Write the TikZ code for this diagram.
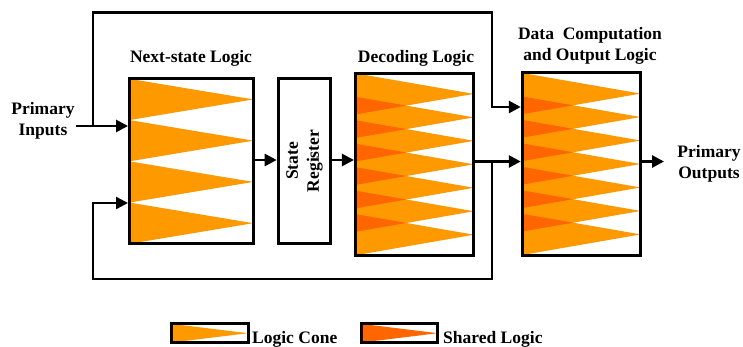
\documentclass[tikz,border=0pt]{standalone}
\usepackage{fontspec}
\setmainfont{Liberation Serif}
\usetikzlibrary{arrows.meta,backgrounds,calc}
\definecolor{conelight}{HTML}{FF9900}
\definecolor{coneshared}{HTML}{FF6600}

\begin{document}
\begin{tikzpicture}[x=1pt,y=-1pt,
  txt/.style={font=\bfseries\fontsize{17.5}{21}\selectfont, inner sep=0pt},
  block/.style={draw, line width=3pt, inner sep=0pt, outer sep=1.5pt, fill=none},
  link/.style={line width=2.8pt, -{Triangle[length=12pt,width=12pt]}},
  feedlink/.style={line width=2.3pt, -{Triangle[length=12pt,width=12pt]}},
  lightcone/.style={fill=conelight},
  sharedcone/.style={fill=coneshared}]

\useasboundingbox (0,0) rectangle (743,347);

% ---- blocks ----
\node[block, minimum width=123.8pt, minimum height=165pt] (ns)  at (191.4,161.3) {};
\node[block, minimum width=52.6pt,  minimum height=165.6pt] (sr) at (304.5,161) {};
\node[block, minimum width=118.5pt, minimum height=182pt] (dec) at (414.7,164.3) {};
\node[block, minimum width=118.5pt, minimum height=182pt] (dat) at (581.5,164) {};

% ---- logic cones ----
\pgfmathsetmacro\conesH{0.2262}
\pgfmathsetmacro\conesS{(1-\conesH)/6}
% next-state logic: four separate cones
\begin{scope}[on background layer, shift={([shift={(1.5pt,-1.5pt)}]ns.north west)}, x=123.8pt, y=-165pt]
  \foreach \i in {0,...,3}
    \fill[lightcone] (0,{\i/4}) -- (0,{(\i+1)/4}) -- (1,{(\i+0.5)/4}) -- cycle;
\end{scope}
% decoding and data blocks: overlapping cones with shared parts
\foreach \blk in {dec,dat}{
  \begin{scope}[on background layer, shift={([shift={(1.5pt,-1.5pt)}]\blk.north west)}, x=118.5pt, y=-182pt]
    \foreach \i in {0,...,6}
      \fill[lightcone] (0,{\i*\conesS}) -- (0,{\i*\conesS+\conesH}) -- (1,{\i*\conesS+\conesH/2}) -- cycle;
    \foreach \i in {0,...,5}
      \fill[sharedcone] (0,{(\i+1)*\conesS}) -- (0,{\i*\conesS+\conesH})
        -- ({1-\conesS/\conesH},{\i*\conesS+\conesH/2+\conesS/2}) -- cycle;
  \end{scope}
}

% ---- labels ----
\node[txt, anchor=base] (lblns) at (191,63) {Next-state Logic};
\node[txt, anchor=base] (lbldec) at (416,63) {Decoding Logic};
\node[txt, align=center] (lbldat) at (590,46) {Data~~Computation\\and Output Logic};
\node[txt, align=center] (lblin) at (43,121) {Primary\\Inputs};
\node[txt, align=center] (lblout) at (709,164) {Primary\\Outputs};
\node[txt, rotate=90, align=center] (lblsr) at (sr.center) {State\\Register};

% ---- connection points ----
\coordinate (pin)  at (76,126);
\coordinate (jin)  at (93,126);
\coordinate (ftop) at (492,12.5);
\coordinate (lvA)  at (0,107);
\coordinate (lvB)  at (0,161.5);
\coordinate (lvS)  at (0,160);
\coordinate (lvF)  at (0,203);
\coordinate (jout) at (492,161.5);
\coordinate (fbot) at (93,279);
\coordinate (pout) at (664,161.5);

% ---- connectors ----
\draw[link] (pin) -- (pin -| ns.west);
\draw[link] (jin) |- (ftop) |- (dat.west |- lvA);
\draw[link] (ns.east |- lvS) -- (sr.west |- lvS);
\draw[link] (sr.east |- lvS) -- (dec.west |- lvS);
\draw[link] (dec.east |- lvB) -- (dat.west |- lvB);
\draw[feedlink] (jout) |- (fbot) |- (ns.west |- lvF);
\draw[link] (dat.east |- lvB) -- (pout);

% ---- legend ----
\node[block, minimum width=76.5pt, minimum height=18.7pt] (lg1) at (209.8,333.2) {};
\node[block, minimum width=76.5pt, minimum height=18.7pt] (lg2) at (399.6,333.2) {};
\begin{scope}[on background layer, shift={([shift={(1.5pt,-1.5pt)}]lg1.north west)}, x=76.5pt, y=-18.7pt]
  \fill[lightcone] (0,0) -- (0,1) -- (1,0.5) -- cycle;
\end{scope}
\begin{scope}[on background layer, shift={([shift={(1.5pt,-1.5pt)}]lg2.north west)}, x=76.5pt, y=-18.7pt]
  \fill[sharedcone] (0,0) -- (0,1) -- (1,0.5) -- cycle;
\end{scope}
\node[txt, anchor=base west] (lgt1) at (252,343) {Logic Cone};
\node[txt, anchor=base west] (lgt2) at (443,343) {Shared Logic};
\end{tikzpicture}
\end{document}
